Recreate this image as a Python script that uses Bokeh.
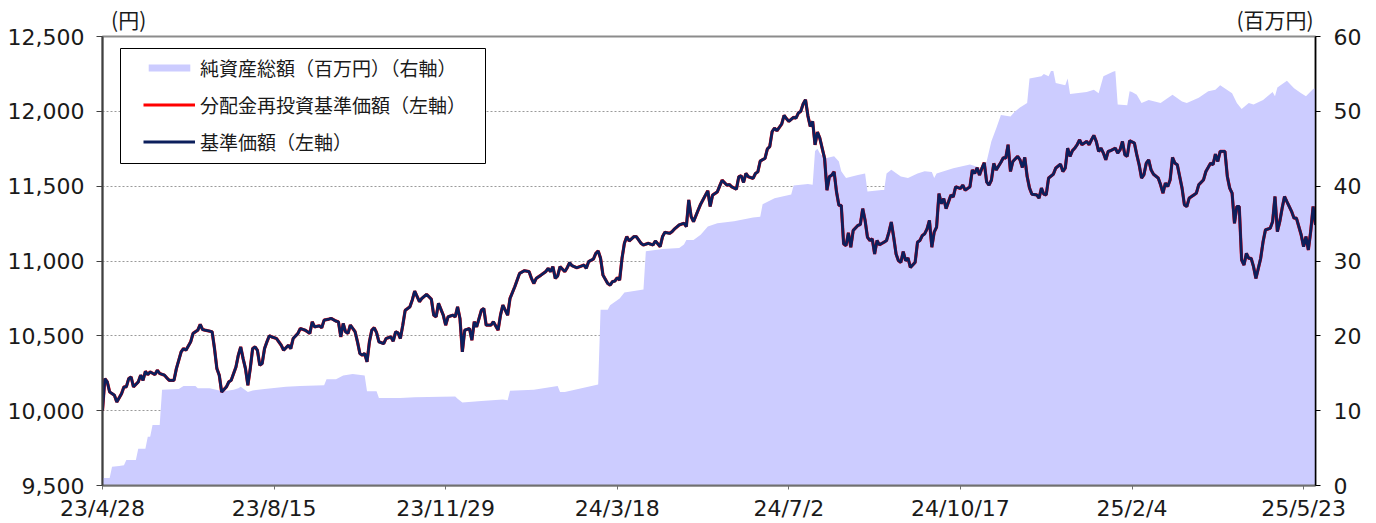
from bokeh.plotting import figure
from bokeh.models import (Range1d, LinearAxis, FixedTicker, SingleIntervalTicker,
                          NumeralTickFormatter, Legend, LegendItem, BoxAnnotation)
from bokeh.embed import file_html
from bokeh.resources import INLINE

# ---- data (x = trading-day number since 23/4/28) ----
nav_day = [0, 1, 2, 3, 5, 6, 8, 9, 10, 11, 12, 13, 15, 16, 17, 18, 19, 20, 22, 23, 24, 26, 27, 28, 30, 31,
           33, 34, 35, 37, 38, 40, 41, 42, 43, 45, 46, 47, 48, 49, 50, 52, 53, 54, 56, 57, 58, 59, 60, 61,
           62, 63, 64, 65, 66, 67, 68, 69, 70, 71, 73, 75, 76, 78, 79, 80, 82, 83, 85, 87, 88, 89, 91, 92,
           93, 95, 96, 98, 99, 100, 101, 102, 103, 104, 106, 107, 108, 109, 110, 111, 112, 113, 114, 115,
           116, 118, 119, 121, 122, 123, 124, 125, 126, 127, 129, 130, 131, 133, 134, 136, 138, 139, 140,
           141, 143, 144, 145, 147, 148, 149, 150, 151, 152, 154, 155, 156, 157, 159, 160, 161, 163, 164,
           166, 167, 168, 170, 171, 173, 175, 177, 179, 180, 181, 182, 184, 186, 187, 188, 189, 190, 191,
           192, 194, 195, 196, 197, 199, 201, 202, 203, 204, 206, 207, 208, 209, 210, 212, 213, 214, 215,
           216, 217, 218, 219, 220, 221, 223, 224, 226, 227, 229, 231, 232, 234, 235, 236, 238, 239, 240,
           242, 244, 245, 246, 247, 248, 250, 251, 252, 253, 254, 255, 256, 258, 259, 260, 262, 263, 264,
           266, 267, 268, 269, 270, 271, 273, 274, 275, 276, 278, 279, 280, 281, 282, 283, 285, 286, 287,
           288, 290, 291, 292, 293, 294, 295, 296, 297, 298, 299, 300, 301, 302, 303, 304, 305, 306, 307,
           308, 309, 310, 311, 312, 313, 314, 315, 317, 318, 319, 320, 321, 322, 323, 324, 325, 326, 328,
           329, 330, 331, 332, 333, 334, 335, 336, 337, 338, 339, 341, 342, 343, 344, 345, 346, 347, 348,
           349, 350, 351, 352, 353, 354, 355, 356, 357, 358, 360, 361, 362, 364, 365, 366, 367, 368, 369,
           370, 371, 372, 373, 374, 375, 377, 378, 379, 380, 381, 382, 384, 385, 386, 387, 388, 389, 390,
           392, 393, 394, 395, 396, 397, 399, 400, 402, 403, 404, 405, 406, 407, 408, 409, 410, 411, 413,
           414, 415, 416, 417, 418, 419, 420, 421, 422, 423, 425, 426, 427, 428, 429, 430, 431, 433, 434,
           435, 436, 437, 438, 439, 440, 441, 443, 444, 445, 446, 447, 448, 449, 450, 451, 453, 454, 455,
           456, 458, 459, 460, 462, 463, 465, 466, 467, 468, 469, 471, 472, 473, 474, 475, 476, 477, 478,
           479, 480, 481, 482, 483, 484, 486, 487, 488, 490, 491, 492, 493, 494, 495, 496, 497, 499, 500,
           501, 503, 504, 505, 506, 507, 508, 509]
nav = [10000, 10214, 10192, 10125, 10103, 10058, 10114, 10159, 10159, 10214, 10225, 10159, 10192, 10237,
       10203, 10263, 10241, 10259, 10241, 10270, 10248, 10237, 10219, 10203, 10203, 10281, 10393, 10415,
       10404, 10460, 10516, 10538, 10576, 10542, 10538, 10531, 10527, 10415, 10281, 10237, 10125, 10159,
       10192, 10203, 10292, 10371, 10426, 10348, 10281, 10170, 10281, 10415, 10426, 10404, 10304, 10315,
       10415, 10460, 10500, 10493, 10482, 10437, 10404, 10437, 10415, 10482, 10516, 10549, 10538, 10516,
       10594, 10560, 10567, 10554, 10605, 10612, 10616, 10598, 10594, 10493, 10583, 10527, 10516, 10572,
       10527, 10460, 10382, 10371, 10382, 10326, 10460, 10538, 10554, 10522, 10460, 10448, 10482, 10493,
       10464, 10527, 10520, 10482, 10571, 10670, 10694, 10740, 10799, 10728, 10750, 10777, 10745, 10638,
       10627, 10717, 10638, 10571, 10627, 10638, 10627, 10694, 10616, 10393, 10538, 10549, 10471, 10594,
       10560, 10672, 10683, 10571, 10571, 10594, 10538, 10638, 10705, 10638, 10750, 10828, 10917, 10935,
       10929, 10884, 10850, 10884, 10906, 10929, 10951, 10929, 10962, 10884, 10900, 10962, 10929, 10955,
       10989, 10969, 10955, 10967, 10973, 10951, 10996, 11013, 11051, 11067, 11018, 10906, 10850, 10839,
       10862, 10866, 10888, 10873, 11018, 11118, 11163, 11134, 11163, 11163, 11118, 11107, 11118, 11107,
       11134, 11096, 11163, 11192, 11185, 11196, 11214, 11241, 11252, 11230, 11408, 11297, 11263, 11342,
       11380, 11410, 11440, 11469, 11364, 11440, 11462, 11502, 11540, 11507, 11511, 11496, 11480, 11563,
       11570, 11525, 11585, 11563, 11552, 11585, 11596, 11668, 11686, 11749, 11765, 11865, 11888, 11870,
       11915, 11973, 11951, 11933, 11960, 11955, 11989, 12000, 12049, 12078, 11970, 11899, 11933, 11776,
       11861, 11821, 11753, 11686, 11473, 11563, 11574, 11596, 11462, 11372, 11372, 11114, 11103, 11188,
       11092, 11204, 11238, 11244, 11350, 11271, 11159, 11137, 11148, 11047, 11137, 11108, 11126, 11137,
       11193, 11260, 11159, 11047, 11002, 10991, 11063, 11002, 11020, 10957, 10991, 11126, 11137, 11170,
       11182, 11215, 11271, 11092, 11193, 11226, 11451, 11383, 11417, 11350, 11395, 11440, 11428, 11496,
       11484, 11507, 11473, 11496, 11608, 11585, 11623, 11574, 11619, 11657, 11529, 11507, 11540, 11652,
       11608, 11660, 11690, 11687, 11777, 11598, 11665, 11699, 11676, 11625, 11692, 11565, 11487, 11446,
       11442, 11420, 11487, 11446, 11442, 11554, 11580, 11621, 11647, 11598, 11621, 11754, 11699, 11737,
       11754, 11777, 11810, 11777, 11799, 11777, 11810, 11839, 11799, 11732, 11754, 11721, 11676, 11732,
       11737, 11754, 11721, 11743, 11799, 11710, 11699, 11804, 11788, 11710, 11643, 11554, 11576, 11654,
       11676, 11609, 11580, 11554, 11509, 11453, 11520, 11498, 11542, 11692, 11654, 11643, 11487, 11375,
       11364, 11420, 11442, 11453, 11509, 11542, 11598, 11654, 11643, 11714, 11665, 11732, 11732, 11565,
       11487, 11453, 11252, 11364, 11364, 11007, 10973, 11051, 11018, 11018, 10962, 10884, 11018, 11129,
       11208, 11219, 11263, 11431, 11196, 11263, 11353, 11431, 11397, 11330, 11286, 11286, 11174, 11096,
       11163, 11074, 11200, 11364, 11241]

aum_day = [0, 3, 4, 7, 9, 10, 14, 15, 18, 19, 20, 21, 24, 25, 32, 34, 39, 40, 45, 49, 50, 53, 55, 57, 58,
           61, 63, 68, 71, 77, 83, 93, 94, 98, 101, 105, 110, 111, 115, 116, 125, 131, 148, 149, 151, 159,
           168, 170, 171, 181, 191, 192, 194, 201, 208, 209, 212, 213, 217, 219, 227, 228, 235, 242, 244,
           245, 248, 251, 254, 258, 265, 273, 276, 277, 282, 289, 290, 296, 298, 299, 300, 301, 303, 307,
           309, 310, 312, 317, 320, 321, 327, 328, 329, 331, 335, 338, 342, 345, 348, 349, 350, 357, 364,
           369, 371, 373, 375, 377, 381, 383, 385, 388, 389, 394, 395, 397, 398, 399, 400, 404, 405, 406,
           413, 416, 418, 420, 424, 425, 426, 430, 431, 432, 434, 436, 439, 444, 449, 453, 455, 460, 464,
           467, 469, 474, 476, 478, 481, 483, 487, 491, 492, 493, 497, 500, 503, 505, 508, 509]
aum = [1.0, 1.0, 2.5, 2.6, 2.7, 3.4, 3.4, 4.9, 4.9, 6.5, 6.5, 8.1, 8.1, 12.8, 12.9, 13.3, 13.3, 13.0, 13.0,
       12.7, 12.6, 12.7, 12.8, 13.0, 13.2, 12.5, 12.7, 12.9, 13.0, 13.2, 13.3, 13.4, 14.2, 14.2, 14.7, 14.9,
       14.7, 12.6, 12.6, 11.7, 11.7, 11.8, 11.9, 11.6, 11.1, 11.3, 11.5, 11.4, 12.65, 12.8, 13.3, 12.5, 12.5,
       13.0, 13.5, 23.5, 23.5, 24.1, 25.0, 25.8, 26.2, 31.3, 31.6, 31.75, 32.2, 32.8, 32.8, 33.5, 34.6, 35.05,
       35.3, 35.8, 35.9, 37.6, 38.4, 38.9, 40.1, 40.3, 40.2, 44.7, 45.0, 44.4, 43.7, 44.0, 43.3, 42.0, 41.1,
       41.5, 41.7, 39.3, 39.5, 39.5, 41.7, 42.2, 41.3, 41.1, 41.7, 42.0, 41.9, 41.1, 41.7, 42.4, 42.9, 42.4,
       43.3, 46.0, 47.7, 49.5, 49.3, 50.0, 50.5, 51.1, 54.4, 54.7, 55.0, 54.7, 55.4, 55.4, 53.8, 53.5, 54.4,
       52.3, 52.6, 52.9, 52.4, 54.7, 55.3, 55.4, 50.9, 50.8, 52.7, 52.6, 52.2, 51.1, 51.5, 51.1, 52.2, 51.3,
       51.1, 51.8, 52.7, 52.9, 53.5, 52.4, 51.1, 50.3, 51.1, 50.9, 51.5, 52.6, 52.0, 53.2, 54.1, 53.1, 52.4,
       52.0, 53.0, 53.1]

tick_days = [0, 72, 144, 216, 288, 360, 432, 504]
tick_labels = ["23/4/28", "23/8/15", "23/11/29", "24/3/18", "24/7/2", "24/10/17", "25/2/4", "25/5/23"]

series_names = ["純資産総額（百万円）（右軸）", "分配金再投資基準価額（左軸）", "基準価額（左軸）"]
unit_labels = ["(円)", "(百万円)"]
unit_label_days = [11, 492]   # x positions (trading days) under which the unit captions sit

NUM_FONT = "DejaVu Sans"
JP_FONT = "Noto Sans CJK JP"

p = figure(frame_width=1213, frame_height=449,
           x_range=Range1d(0, 509), y_range=Range1d(9500, 12500),
           output_backend="svg", toolbar_location=None,
           min_border_left=102, min_border_top=35, min_border_right=50, min_border_bottom=36)
p.extra_y_ranges = {"right": Range1d(0, 60)}

p.background_fill_color = "white"
p.border_fill_color = "white"
p.outline_line_color = "#8c8c8c"
p.outline_line_width = 2

p.xgrid.visible = False
p.ygrid.ticker = SingleIntervalTicker(interval=500)
p.ygrid.grid_line_color = "#9a9a9a"
p.ygrid.grid_line_dash = "2 2"
p.ygrid.grid_line_width = 1

area_r = p.varea(x=aum_day, y1=0, y2=aum, y_range_name="right", fill_color="#CCCCFF", fill_alpha=1.0)
red_r = p.line(nav_day, nav, line_color="#FF0000", line_width=3.2)
navy_r = p.line(nav_day, nav, line_color="#0c1f5c", line_width=2.8)

# left axis
ya = p.yaxis[0]
ya.ticker = SingleIntervalTicker(interval=500)
ya.formatter = NumeralTickFormatter(format="0,0")
ya.axis_line_color = "#404040"
ya.axis_line_width = 2
ya.major_tick_line_color = "#404040"
ya.major_tick_in = 0
ya.major_tick_out = 6
ya.minor_tick_line_color = None
ya.major_label_standoff = 12
ya.major_label_text_font = NUM_FONT
ya.major_label_text_font_size = "22px"
ya.major_label_text_color = "#1a1a1a"

# right axis
ra = LinearAxis(y_range_name="right", ticker=SingleIntervalTicker(interval=10))
ra.axis_line_color = "#000000"
ra.axis_line_width = 1.5
ra.major_tick_line_color = "#000000"
ra.major_tick_in = 0
ra.major_tick_out = 5
ra.minor_tick_line_color = None
ra.major_label_standoff = 13
ra.major_label_text_font = NUM_FONT
ra.major_label_text_font_size = "22px"
ra.major_label_text_color = "#1a1a1a"
p.add_layout(ra, "right")

# bottom axis
xa = p.xaxis[0]
xa.ticker = FixedTicker(ticks=tick_days)
xa.major_label_overrides = {d: s for d, s in zip(tick_days, tick_labels)}
xa.axis_line_color = "#707070"
xa.axis_line_width = 2
xa.major_tick_line_color = "#707070"
xa.major_tick_in = 0
xa.major_tick_out = 4
xa.minor_tick_line_color = None
xa.major_label_standoff = 6
xa.major_label_text_font = NUM_FONT
xa.major_label_text_font_size = "22px"
xa.major_label_text_color = "#1a1a1a"

# unit captions above the frame, as labels of a bare axis on top
ua = LinearAxis(ticker=FixedTicker(ticks=unit_label_days))
ua.major_label_overrides = {d: s for d, s in zip(unit_label_days, unit_labels)}
ua.axis_line_color = None
ua.major_tick_line_color = None
ua.minor_tick_line_color = None
ua.major_tick_in = 0
ua.major_tick_out = 0
ua.major_label_standoff = 3
ua.major_label_text_font = JP_FONT
ua.major_label_text_font_size = "21px"
ua.major_label_text_color = "#1a1a1a"
p.add_layout(ua, "above")

# legend frame
p.add_layout(BoxAnnotation(left=18, right=383, bottom=322, top=437,
                           left_units="screen", right_units="screen",
                           bottom_units="screen", top_units="screen",
                           fill_color="white", fill_alpha=1.0,
                           line_color="black", line_width=1, line_alpha=1.0))

legend = Legend(items=[LegendItem(label=series_names[0], renderers=[area_r]),
                       LegendItem(label=series_names[1], renderers=[red_r]),
                       LegendItem(label=series_names[2], renderers=[navy_r])],
                location=(41, 330), orientation="vertical",
                label_text_font=JP_FONT, label_text_font_size="19px", label_text_color="#1a1a1a",
                glyph_width=52, glyph_height=9, label_standoff=5, label_height=27,
                spacing=10, padding=0, margin=0,
                border_line_color=None, background_fill_alpha=0.0)
p.add_layout(legend, "center")

open("out.html", "w").write(file_html(p, INLINE))
